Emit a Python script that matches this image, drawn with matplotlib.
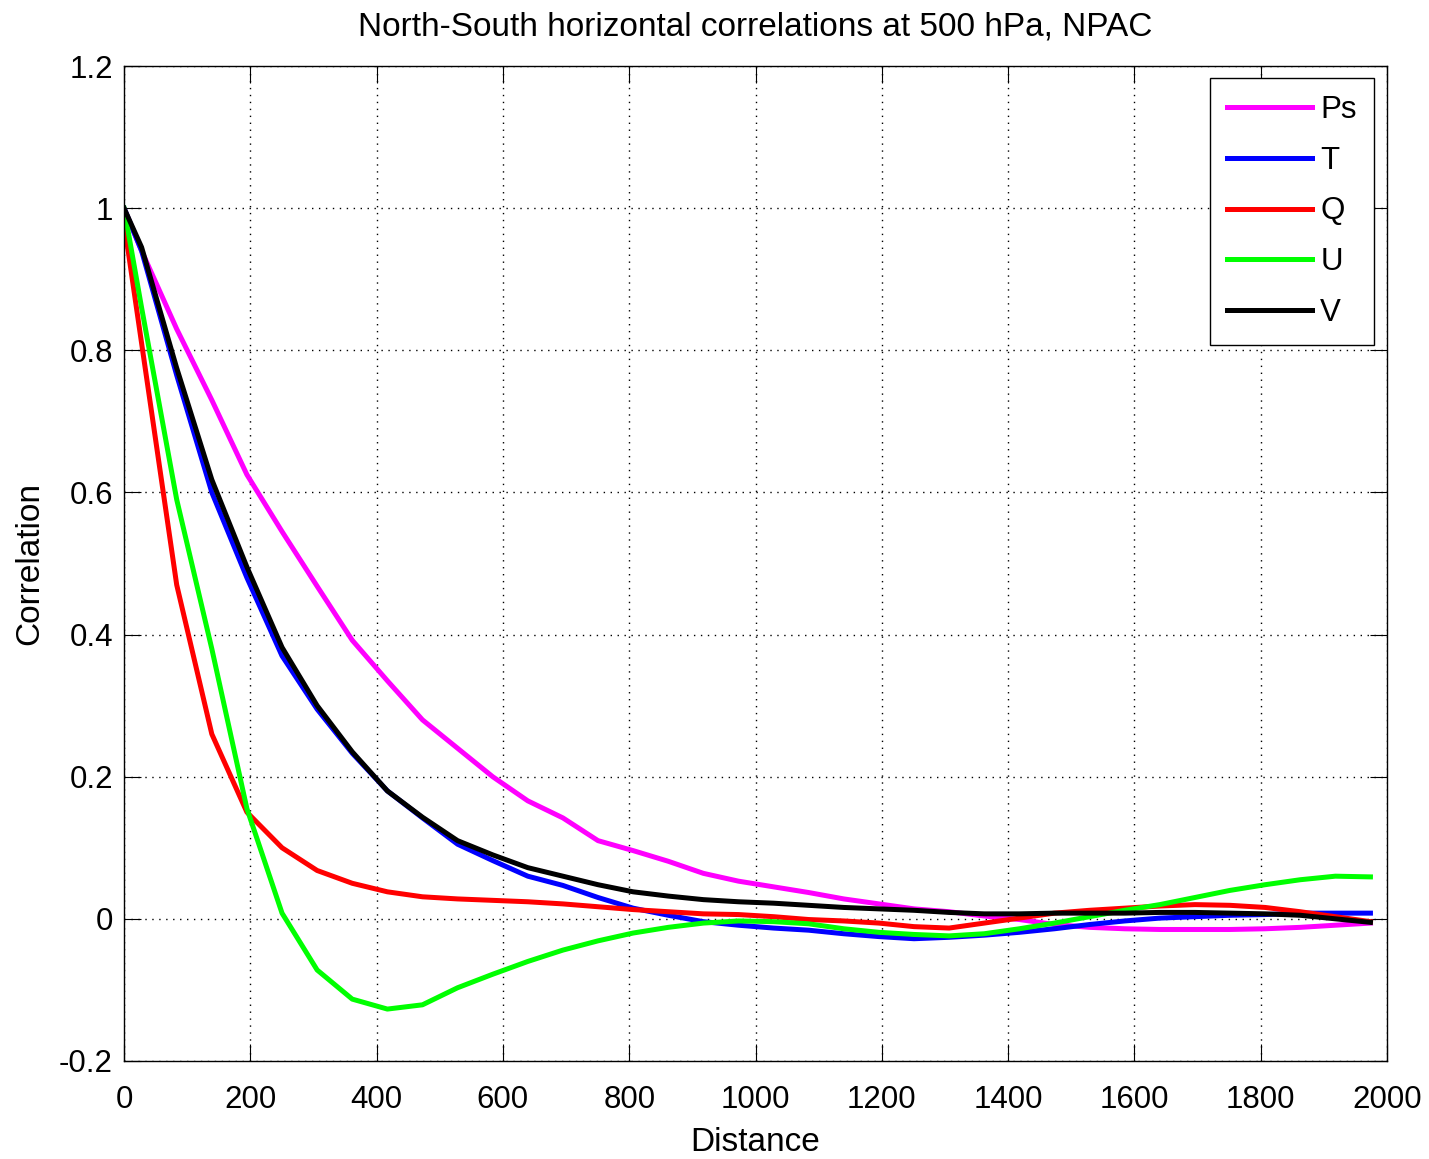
import matplotlib
matplotlib.use('Agg')
import matplotlib.pyplot as plt

plt.rcParams['font.family'] = ['Liberation Sans', 'DejaVu Sans']

# distance (km), bin centres at 0.5 deg latitude spacing
dist = [0, 27.8, 83.4, 139.0, 194.6, 250.2, 305.8, 361.4, 417.0, 472.6,
        528.2, 583.8, 639.4, 695.0, 750.6, 806.2, 861.8, 917.4, 973.0,
        1028.6, 1084.2, 1139.8, 1195.4, 1251.0, 1306.6, 1362.2, 1417.8,
        1473.4, 1529.0, 1584.6, 1640.2, 1695.8, 1751.4, 1807.0, 1862.6,
        1918.2, 1973.8]

ps = [1.0, 0.94, 0.83, 0.73, 0.625, 0.545, 0.468, 0.392, 0.335, 0.28,
      0.24, 0.20, 0.166, 0.142, 0.11, 0.096, 0.081, 0.064, 0.053,
      0.045, 0.037, 0.028, 0.021, 0.014, 0.01, 0.004, -0.001,
      -0.008, -0.012, -0.014, -0.015, -0.015, -0.015, -0.014, -0.012,
      -0.009, -0.006]
t = [1.0, 0.94, 0.765, 0.60, 0.48, 0.37, 0.295, 0.233, 0.18, 0.142,
     0.105, 0.082, 0.06, 0.047, 0.03, 0.015, 0.005, -0.004, -0.009,
     -0.013, -0.016, -0.021, -0.025, -0.028, -0.026, -0.023, -0.019,
     -0.014, -0.008, -0.003, 0.001, 0.003, 0.005, 0.006, 0.008,
     0.008, 0.008]
q = [0.98, 0.81, 0.47, 0.26, 0.15, 0.10, 0.068, 0.05, 0.038, 0.031,
     0.028, 0.026, 0.024, 0.021, 0.017, 0.013, 0.01, 0.007, 0.006,
     0.003, -0.001, -0.003, -0.006, -0.011, -0.013, -0.006, 0.001,
     0.008, 0.012, 0.015, 0.018, 0.02, 0.019, 0.016, 0.01,
     0.003, -0.004]
u = [1.0, 0.86, 0.59, 0.38, 0.155, 0.008, -0.072, -0.113, -0.127, -0.121,
     -0.097, -0.078, -0.06, -0.044, -0.031, -0.02, -0.012, -0.006, -0.003,
     -0.004, -0.007, -0.014, -0.019, -0.022, -0.024, -0.021, -0.014,
     -0.006, 0.003, 0.012, 0.02, 0.03, 0.04, 0.048, 0.055,
     0.06, 0.059]
v = [1.0, 0.945, 0.775, 0.618, 0.495, 0.382, 0.30, 0.235, 0.18, 0.143,
     0.11, 0.09, 0.072, 0.06, 0.048, 0.038, 0.032, 0.027, 0.024,
     0.022, 0.019, 0.016, 0.014, 0.012, 0.009, 0.007, 0.007,
     0.008, 0.008, 0.008, 0.009, 0.009, 0.008, 0.007, 0.005,
     0.0, -0.005]

series = [('Ps', ps, '#ff00ff'), ('T', t, '#0000ff'), ('Q', q, '#ff0000'),
          ('U', u, '#00ff00'), ('V', v, '#000000')]

fig = plt.figure(figsize=(14.29, 11.59), dpi=100)
ax = fig.add_axes([0.0868, 0.0846, 0.8838, 0.8584])

for name, vals, col in series:
    ax.plot(dist, vals, color=col, lw=3.6, label=name)

ax.set_xlim(0, 2000)
ax.set_ylim(-0.2, 1.2)
ax.set_xticks(range(0, 2001, 200))
ax.set_yticks([-0.2, 0, 0.2, 0.4, 0.6, 0.8, 1.0, 1.2])
ax.set_yticklabels(['-0.2', '0', '0.2', '0.4', '0.6', '0.8', '1', '1.2'])
ax.grid(True, color='black', linestyle=(0, (1, 4)), lw=1.0)
ax.tick_params(direction='in', top=True, right=True, length=12,
               labelsize=22.5)
ax.tick_params(axis='x', pad=17)
ax.tick_params(axis='y', pad=8)
for s in ax.spines.values():
    s.set_linewidth(1.0)

ax.set_xlabel('Distance', fontsize=24, labelpad=9)
ax.set_ylabel('Correlation', fontsize=24, labelpad=10)
ax.set_title('North-South horizontal correlations at 500 hPa, NPAC',
             fontsize=24, pad=22)

leg = ax.legend(loc='upper right', fontsize=22.5, handlelength=2.7,
                handletextpad=0.27, labelspacing=0.66, borderpad=0.55,
                borderaxespad=0, fancybox=False, edgecolor='black',
                framealpha=1, bbox_to_anchor=(0.9897, 0.988))
leg.get_frame().set_linewidth(1.0)

fig.savefig('out.png', dpi=100)
